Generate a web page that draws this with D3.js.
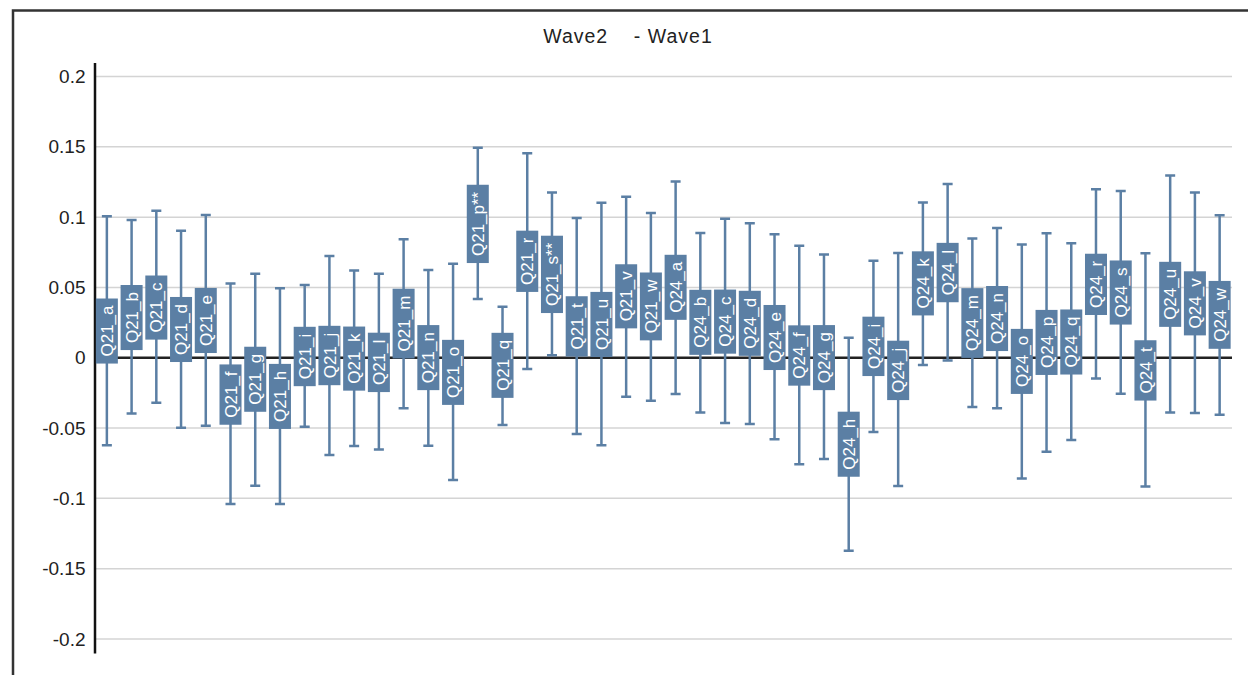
<!DOCTYPE html>
<html>
<head>
<meta charset="utf-8">
<script src="https://cdn.jsdelivr.net/npm/d3@7"></script>
<style>
body { margin: 0; background: #fff; }
svg { display: block; font-family: "Liberation Sans", Arial, sans-serif; }
.grid line { stroke: #d4d4d4; stroke-width: 1.5; }
.whisker { stroke: #5b7fa4; stroke-width: 2.5; fill: none; }
.box { fill: #5b7fa4; }
.lbl { fill: #fff; font-size: 17px; }
</style>
</head>
<body>
<div id="chart"></div>
<script>
var categories = ["Q21_a","Q21_b","Q21_c","Q21_d","Q21_e","Q21_f","Q21_g","Q21_h","Q21_i","Q21_j","Q21_k","Q21_l",
  "Q21_m","Q21_n","Q21_o","Q21_p**","Q21_q","Q21_r","Q21_s**","Q21_t","Q21_u","Q21_v","Q21_w",
  "Q24_a","Q24_b","Q24_c","Q24_d","Q24_e","Q24_f","Q24_g","Q24_h","Q24_i","Q24_j","Q24_k","Q24_l",
  "Q24_m","Q24_n","Q24_o","Q24_p","Q24_q","Q24_r","Q24_s","Q24_t","Q24_u","Q24_v","Q24_w"];

// point estimate (centre of label box)
var estimate = [0.019,0.0286,0.0357,0.0201,0.0265,-0.0262,-0.0153,-0.0275,0.0009,0.0016,-0.0006,-0.0033,
  0.0243,0.0001,-0.0104,0.0952,-0.0054,0.0686,0.0593,0.0223,0.0237,0.0437,0.0365,
  0.0501,0.0252,0.0257,0.0245,0.0144,0.0016,0.0001,-0.0615,0.0081,-0.009,0.0529,0.0606,
  0.0247,0.0279,-0.0026,0.0109,0.0112,0.0522,0.0464,-0.009,0.0451,0.0387,0.0305];

var lower = [-0.0623,-0.0396,-0.032,-0.0498,-0.0484,-0.104,-0.091,-0.104,-0.049,-0.0692,-0.0628,-0.0652,
  -0.036,-0.0626,-0.087,0.0418,-0.0479,-0.008,0.0017,-0.0543,-0.0623,-0.0277,-0.0306,
  -0.0258,-0.0389,-0.0464,-0.0472,-0.058,-0.0758,-0.072,-0.1373,-0.0528,-0.0913,-0.0052,-0.0019,
  -0.0351,-0.036,-0.0858,-0.0668,-0.0585,-0.0147,-0.0256,-0.0915,-0.0389,-0.0393,-0.0405];

var upper = [0.1007,0.0979,0.1046,0.0903,0.1015,0.0529,0.0598,0.0494,0.0517,0.0723,0.0621,0.0598,
  0.0842,0.0624,0.0669,0.1494,0.0363,0.1454,0.1176,0.0994,0.1103,0.1145,0.1029,
  0.1254,0.0887,0.0989,0.0956,0.0878,0.0797,0.0735,0.0142,0.069,0.0745,0.1105,0.1235,
  0.0849,0.0923,0.0806,0.0885,0.0814,0.1198,0.1186,0.0743,0.1297,0.1176,0.1013];

var tickVals = [0.2,0.15,0.1,0.05,0,-0.05,-0.1,-0.15,-0.2];
var titleText = "Wave2    - Wave1";

var width = 1248, height = 675;
var margin = {left: 94.5, right: 16, top: 62.5, bottom: 22};

var svg = d3.select("#chart").append("svg")
    .attr("width", width).attr("height", height);

// outer frame (top and left edges of the panel)
svg.append("path")
  .attr("d", "M13," + height + "V10.5H" + width)
  .attr("fill", "none").attr("stroke", "#333").attr("stroke-width", 2.5);

var x = d3.scaleBand()
    .domain(categories)
    .range([margin.left, width - margin.right])
    .paddingInner(0.11)
    .paddingOuter(0.055);

var y = d3.scaleLinear()
    .domain([-0.21, 0.21])
    .range([height - margin.bottom, margin.top]);

var data = categories.map(function(c, i) {
  return {name: c, est: estimate[i], lo: lower[i], hi: upper[i]};
});

svg.append("text")
  .attr("x", 628).attr("y", 42.5)
  .attr("text-anchor", "middle")
  .style("white-space", "pre")
  .style("font-size", "19.5px")
  .style("letter-spacing", "1px")
  .attr("fill", "#222")
  .text(titleText);

// gridlines
svg.append("g").attr("class", "grid")
  .selectAll("line").data(tickVals.filter(function(d) { return d !== 0; })).enter().append("line")
  .attr("x1", margin.left).attr("x2", width - margin.right)
  .attr("y1", function(d) { return y(d); })
  .attr("y2", function(d) { return y(d); });

// zero line
svg.append("line")
  .attr("x1", margin.left).attr("x2", width - margin.right)
  .attr("y1", y(0)).attr("y2", y(0))
  .attr("stroke", "#222").attr("stroke-width", 2.5);

// y axis
var yAxis = svg.append("g")
  .attr("transform", "translate(" + margin.left + ",0)")
  .call(d3.axisLeft(y).tickValues(tickVals).tickSize(0).tickPadding(9)
    .tickFormat(function(d) { return String(+d.toFixed(2)); }));
yAxis.select(".domain").attr("stroke", "#111").attr("stroke-width", 2.5);
yAxis.selectAll("text").style("font-size", "19px").attr("fill", "#222")
  .style("font-family", "'Liberation Sans', Arial, sans-serif");

// error bars
var cap = 5;
var bars = svg.append("g").selectAll("g").data(data).enter().append("g")
  .attr("transform", function(d) { return "translate(" + (x(d.name) + x.bandwidth() / 2) + ",0)"; });

bars.append("path").attr("class", "whisker")
  .attr("d", function(d) {
    return "M0," + y(d.hi) + "V" + y(d.lo) +
           "M" + (-cap) + "," + y(d.hi) + "H" + cap +
           "M" + (-cap) + "," + y(d.lo) + "H" + cap;
  });

// label boxes centred on the estimate
var boxes = bars.append("g")
  .attr("transform", function(d) { return "translate(0," + y(d.est) + ")"; });

var rects = boxes.append("rect").attr("class", "box");
var labels = boxes.append("text").attr("class", "lbl")
  .attr("transform", "rotate(-90)")
  .attr("text-anchor", "middle")
  .attr("dy", "0.36em")
  .text(function(d) { return d.name; });

labels.each(function(d) { d.tl = this.getComputedTextLength(); });
rects
  .attr("x", -x.bandwidth() / 2)
  .attr("width", x.bandwidth())
  .attr("y", function(d) { return -(d.tl + 14) / 2; })
  .attr("height", function(d) { return d.tl + 14; });
</script>
</body>
</html>
